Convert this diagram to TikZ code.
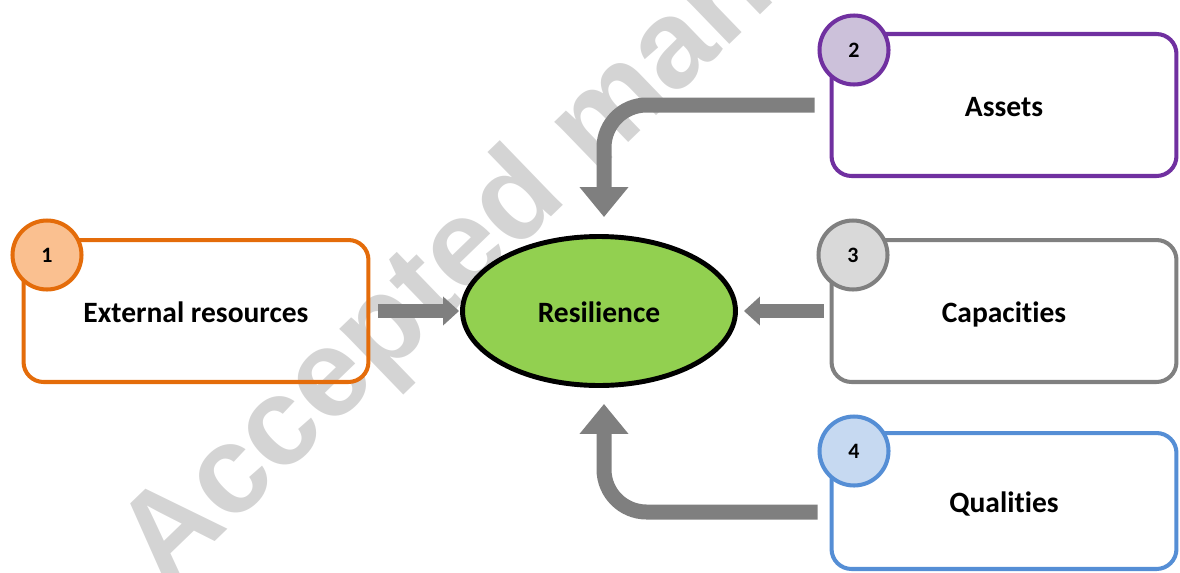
\documentclass[tikz,border=0pt]{standalone}
\usepackage{fontspec}
\setmainfont[Ligatures=NoCommon]{Carlito}
\newfontfamily\wmfont{Liberation Sans}
\usepackage{tikz}
\usetikzlibrary{positioning,calc,arrows.meta,shapes.geometric}

\definecolor{orng}{RGB}{228,108,10}
\definecolor{orngfill}{RGB}{250,192,144}
\definecolor{purp}{RGB}{112,48,160}
\definecolor{purpfill}{RGB}{204,193,218}
\definecolor{grey}{RGB}{128,128,128}
\definecolor{greyfill}{RGB}{217,217,217}
\definecolor{blu}{RGB}{85,142,213}
\definecolor{blufill}{RGB}{198,217,241}
\definecolor{grn}{RGB}{146,208,80}
\definecolor{arrgrey}{RGB}{127,127,127}
\definecolor{wmgrey}{RGB}{212,212,212}

\begin{document}
\begin{tikzpicture}[x=0.02cm,y=-0.02cm,
                    label text/.style={font=\fontsize{16.8}{20}\selectfont\bfseries,
                                       text height=14pt,text depth=1pt},
                    box/.style={draw,rounded corners=0.4cm,line width=2.3pt,
                                minimum width=6.9cm,minimum height=2.84cm,label text},
                    num/.style={circle,draw,line width=2.3pt,minimum size=1.38cm,
                                inner sep=0pt,font=\fontsize{12.5}{14}\selectfont\bfseries},
                    arr/.style={draw=arrgrey,line width=0.28cm,
                                -{Triangle[length=0.32cm,width=0.56cm]}},
                    bigarr/.style={draw=arrgrey,line width=0.3cm,rounded corners=0.85cm,
                                   -{Triangle[length=0.6cm,width=0.94cm]}}]
            \clip (0,0) rectangle (1180,572);

            %Watermark
                \node[text=wmgrey,rotate=44,anchor=base west,inner sep=0pt,
                      font=\wmfont\bfseries\fontsize{71}{80}\selectfont] (wm) at (165,590) {Accepted manuscript};

            %Nodes
                \node[ellipse,draw,fill=grn,line width=2.8pt,minimum width=5.46cm,
                      minimum height=2.98cm,label text] (res) at (599,311) {Resilience};

                \node[box,draw=orng] (ext) at (196,311) {External resources};
                \node[box,draw=purp] (ast) at (1004,105) {Assets};
                \node[box,draw=grey] (cap) at (1004,311) {Capacities};
                \node[box,draw=blu,minimum height=2.72cm] (qua) at (1004,501) {Qualities};

                \node[num,draw=orng,fill=orngfill] (n1) at (47,255) {1};
                \node[num,draw=purp,fill=purpfill] (n2) at (854,50) {2};
                \node[num,draw=grey,fill=greyfill] (n3) at (853,255) {3};
                \node[num,draw=blu,fill=blufill] (n4) at (854,451) {4};

            %Lines
                \draw[arr] ($(ext.east)+(8,0)$) -- ($(res.west)+(-1,0)$);
                \draw[arr] ($(cap.west)+(-6,0)$) -- ($(res.east)+(6,0)$);
                \draw[bigarr] ($(ast.west)+(-15,0)$) -| ($(res.north)+(5,-17)$);
                \draw[bigarr] ($(qua.west)+(-12,11)$) -| ($(res.south)+(5,16)$);
            \end{tikzpicture}
\end{document}
